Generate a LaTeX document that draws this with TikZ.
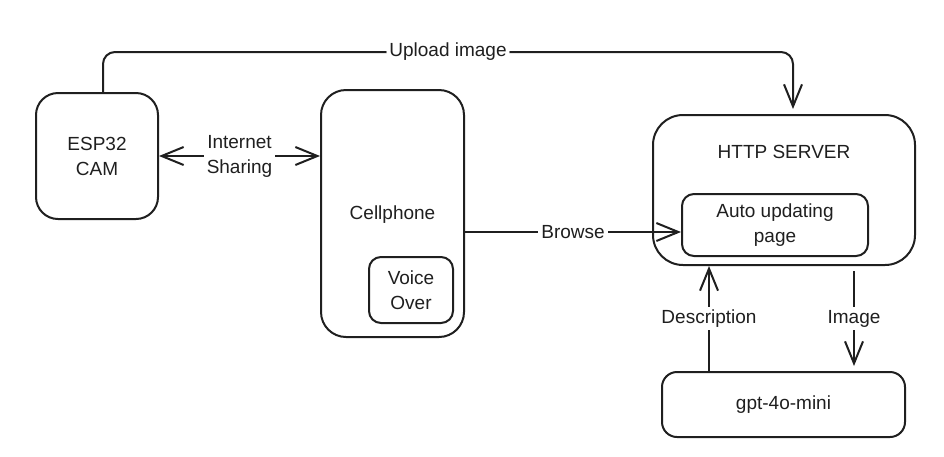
\documentclass[tikz,border=0pt]{standalone}
\usepackage{fontspec}
\setmainfont{Liberation Sans}
\usetikzlibrary{arrows.meta}
\newcommand\dfont{\fontsize{19}{25}\selectfont}
\begin{document}
\begin{tikzpicture}[x=1pt,y=-1pt,
  box/.style={draw=black!88, line width=2pt, rounded corners=#1, inner sep=0pt, align=center, font=\dfont, text=black!88},
  box/.default=20pt,
  lbl/.style={fill=white, inner sep=3pt, font=\dfont, align=center, text=black!88},
  conn/.style={draw=black!88, line width=2pt},
  arr/.style={conn, -{Straight Barb[length=22pt,width=18pt]}},
  darr/.style={conn, {Straight Barb[length=22pt,width=18pt]}-{Straight Barb[length=22pt,width=18pt]}}]
\useasboundingbox (0,0) rectangle (944,456);
% boxes
\node[box=22pt, minimum width=122pt, minimum height=126pt] (esp) at (97,156) {ESP32\\CAM};
\node[box=25pt, minimum width=143pt, minimum height=247pt] (cell) at (392.5,213.5) {};
\node[font=\dfont, text=black!88] (celllbl) at (392.5,215) {Cellphone};
\node[box=12pt, minimum width=84pt, minimum height=66pt] (voice) at (411,290) {Voice\\Over};
\node[box=30pt, minimum width=262pt, minimum height=150pt] (http) at (784,190) {};
\node[font=\dfont, text=black!88] (httplbl) at (784,152) {HTTP SERVER};
\node[box=12pt, minimum width=186pt, minimum height=62pt] (auto) at (775,225) {Auto updating\\page};
\node[box=15pt, minimum width=243pt, minimum height=65pt] (gpt) at (783.5,404.5) {gpt-4o-mini};
\coordinate (dx) at (709,0);
\coordinate (ix) at (854,0);
% connectors
\draw[darr] (esp.east) -- (esp.east -| cell.west) node[lbl, midway] {Internet\\Sharing};
\draw[arr, rounded corners=12pt] ([xshift=6pt]esp.north) -- ++(0,-40) -| ([xshift=9pt,yshift=5pt]http.north) node[lbl, pos=0.25] {Upload image};
\draw[arr] ([yshift=-7pt]auto.west -| cell.east) -- ([yshift=-7pt]auto.west) node[lbl, midway] {Browse};
\draw[arr] (gpt.north -| dx) -- (http.south -| dx) node[lbl, midway] {Description};
\draw[arr] ([yshift=-5pt]http.south -| ix) -- ([yshift=5pt]gpt.north -| ix) node[lbl, midway] {Image};
\end{tikzpicture}
\end{document}
